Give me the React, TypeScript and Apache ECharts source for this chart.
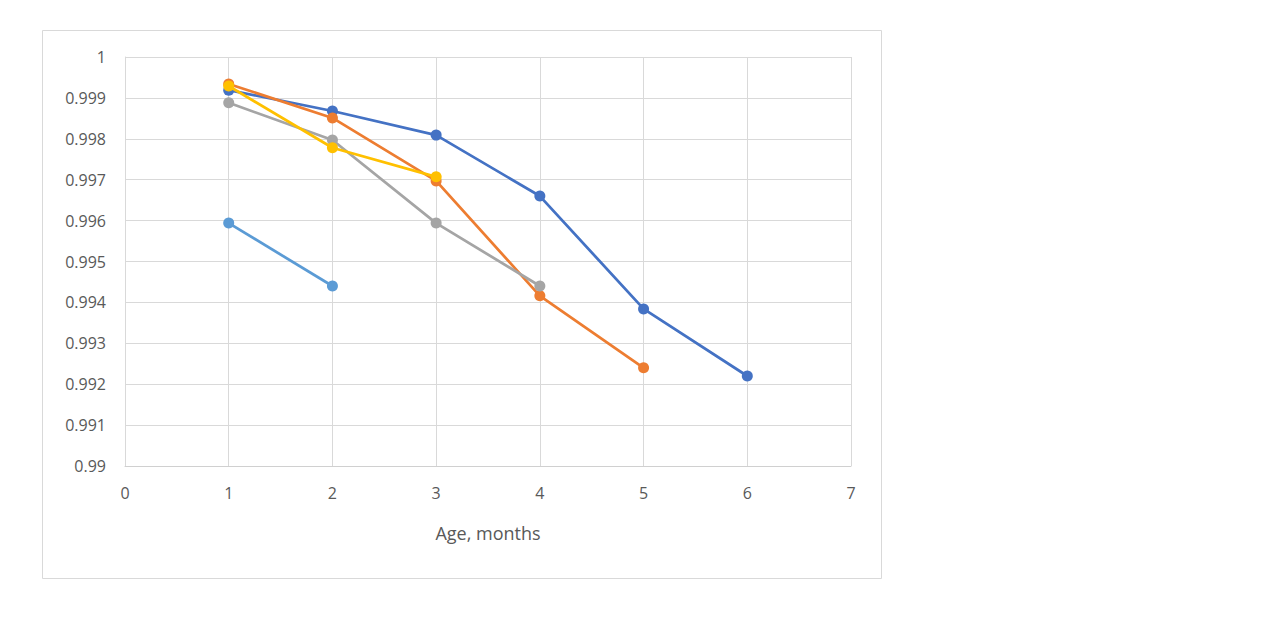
import React, { useEffect, useRef } from "react";
import * as echarts from "echarts";

const xTicks = [0, 1, 2, 3, 4, 5, 6, 7];
const seriesNames = ["Series 1", "Series 2", "Series 3", "Series 4", "Series 5"];
const seriesColors = ["#4472C4", "#ED7D31", "#A5A5A5", "#FFC000", "#5B9BD5"];
const s1: [number, number][] = [[1, 0.99919], [2, 0.99868], [3, 0.99809], [4, 0.9966], [5, 0.99384], [6, 0.9922]];
const s2: [number, number][] = [[1, 0.99934], [2, 0.99851], [3, 0.99697], [4, 0.99416], [5, 0.9924]];
const s3: [number, number][] = [[1, 0.99888], [2, 0.99797], [3, 0.99594], [4, 0.9944]];
const s4: [number, number][] = [[1, 0.99929], [2, 0.99778], [3, 0.99707]];
const s5: [number, number][] = [[1, 0.99594], [2, 0.9944]];
const allSeries = [s1, s2, s3, s4, s5];

export default function App() {
  const ref = useRef<HTMLDivElement>(null);
  useEffect(() => {
    if (!ref.current) return;
    const chart = echarts.init(ref.current, null, { renderer: "svg" });
    const font = "'Open Sans', 'Noto Sans', sans-serif";
    chart.setOption({
      animation: false,
      backgroundColor: "#ffffff",
      graphic: [
        {
          type: "rect",
          shape: { x: 42.5, y: 30.5, width: 839, height: 548 },
          style: { fill: "none", stroke: "#d9d9d9", lineWidth: 1 },
          silent: true,
        },
      ],
      grid: { left: 125, right: 433, top: 57, bottom: 178, containLabel: false },
      xAxis: {
        type: "value",
        min: xTicks[0],
        max: xTicks[xTicks.length - 1],
        interval: 1,
        name: "Age, months",
        nameLocation: "middle",
        nameGap: 58,
        nameTextStyle: { color: "#595959", fontSize: 18, fontFamily: font },
        axisLine: { show: true, lineStyle: { color: "#d0d0d0", width: 1 } },
        axisTick: { show: false },
        splitLine: { show: true, lineStyle: { color: "#d9d9d9", width: 1 } },
        axisLabel: { color: "#595959", fontSize: 16, fontFamily: font, margin: 19 },
      },
      yAxis: {
        type: "value",
        min: 0.99,
        max: 1,
        interval: 0.001,
        axisLine: { show: true, lineStyle: { color: "#d9d9d9", width: 1 } },
        axisTick: { show: false },
        splitLine: { show: true, lineStyle: { color: "#d9d9d9", width: 1 } },
        axisLabel: {
          color: "#595959",
          fontSize: 16,
          fontFamily: font,
          margin: 19,
          formatter: (v: number) => parseFloat(v.toFixed(3)).toString(),
        },
      },
      series: allSeries.map((d, i) => ({
        name: seriesNames[i],
        type: "line",
        data: d,
        symbol: "circle",
        symbolSize: 11,
        lineStyle: { color: seriesColors[i], width: 2.75 },
        itemStyle: { color: seriesColors[i] },
        z: 2 + i,
      })),
    });
    return () => chart.dispose();
  }, []);
  return (
    <div
      ref={ref}
      style={{ position: "absolute", left: 0, top: 0, width: 1284, height: 644 }}
    />
  );
}
